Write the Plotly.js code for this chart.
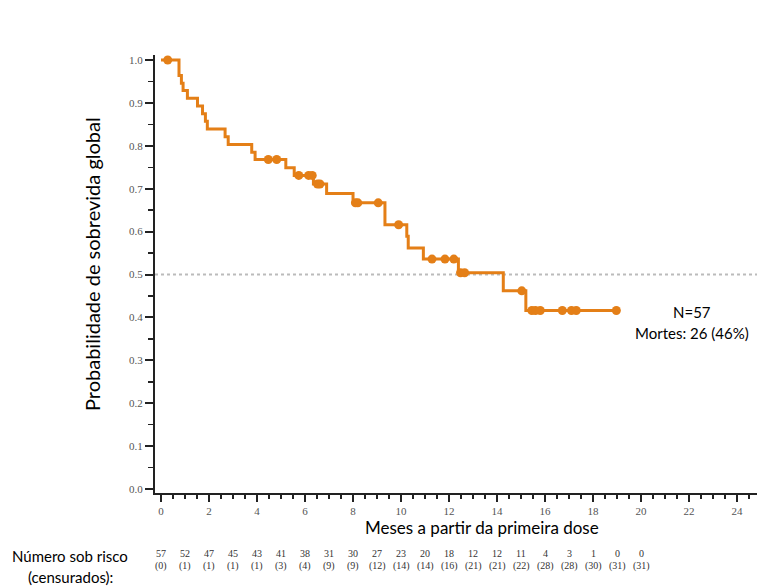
<!DOCTYPE html>
<html>
<head>
<meta charset="utf-8">
<script src="https://cdn.plot.ly/plotly-3.0.1.min.js"></script>
<style>html,body{margin:0;padding:0;background:#fff;}#chart{width:759px;height:587px;}</style>
</head>
<body>
<div id="chart"></div>
<script>
// Kaplan-Meier step curve (time in months, survival after the step)
const stepTimes = [0, 0.75, 0.85, 0.92, 1.10, 1.52, 1.73, 1.85, 1.93, 2.67, 2.80, 3.78, 3.92, 5.20, 5.55, 6.35, 6.90, 8.00, 9.33, 10.24, 10.30, 10.93, 12.39, 14.26, 15.20, 18.97];
const stepSurv  = [1.0, 0.964, 0.946, 0.929, 0.911, 0.893, 0.875, 0.857, 0.839, 0.821, 0.803, 0.785, 0.768, 0.749, 0.731, 0.711, 0.689, 0.667, 0.616, 0.589, 0.562, 0.536, 0.504, 0.462, 0.416, 0.416];

// Censored observations
const censorTimes = [0.28, 4.47, 4.82, 5.74, 6.15, 6.30, 6.52, 6.62, 8.10, 8.20, 9.05, 9.90, 11.29, 11.83, 12.20, 12.48, 12.65, 15.03, 15.45, 15.60, 15.80, 16.72, 17.10, 17.30, 18.97];
const censorSurv  = [1.0, 0.768, 0.768, 0.731, 0.731, 0.731, 0.711, 0.711, 0.667, 0.667, 0.667, 0.616, 0.536, 0.536, 0.536, 0.504, 0.504, 0.462, 0.416, 0.416, 0.416, 0.416, 0.416, 0.416, 0.416];

// Number at risk table
const riskMonths = [0, 1, 2, 3, 4, 5, 6, 7, 8, 9, 10, 11, 12, 13, 14, 15, 16, 17, 18, 19, 20];
const atRisk     = [57, 52, 47, 45, 43, 41, 38, 31, 30, 27, 23, 20, 18, 12, 12, 11, 4, 3, 1, 0, 0];
const censored   = [0, 1, 1, 1, 1, 3, 4, 9, 9, 12, 14, 14, 16, 21, 21, 22, 28, 28, 30, 31, 31];

const orange = '#E47F17';
const serif = 'Liberation Serif, DejaVu Serif, serif';
const sans = 'Lato, Open Sans, sans-serif';

const traces = [
  {x: stepTimes, y: stepSurv, type: 'scatter', mode: 'lines', line: {shape: 'hv', color: orange, width: 3}, hoverinfo: 'skip'},
  {x: censorTimes, y: censorSurv, type: 'scatter', mode: 'markers', marker: {color: orange, size: 9, symbol: 'circle'}, hoverinfo: 'skip'}
];

// convert pixel y positions (from top of page) to paper coords
function py(pix) { return (587 - 94 - pix) / (587 - 55 - 94); }
function px(pix) { return (pix - 155) / (759 - 155 - 2); }

const annotations = [];
riskMonths.forEach((m, i) => {
  annotations.push({x: m, xref: 'x', y: py(553), yref: 'paper', text: String(atRisk[i]), showarrow: false, font: {family: serif, size: 10, color: '#333'}, xanchor: 'center', yanchor: 'middle'});
  annotations.push({x: m, xref: 'x', y: py(566), yref: 'paper', text: '(' + censored[i] + ')', showarrow: false, font: {family: serif, size: 10, color: '#333'}, xanchor: 'center', yanchor: 'middle'});
});

annotations.push(
  {xref: 'paper', yref: 'paper', x: px(482), y: py(527), text: 'Meses a partir da primeira dose', showarrow: false, font: {family: sans, size: 17, color: '#000'}, xanchor: 'center', yanchor: 'middle'},
  {xref: 'paper', yref: 'paper', x: px(92), y: py(264), text: 'Probabilidade de sobrevida global', showarrow: false, textangle: -90, font: {family: sans, size: 20, color: '#000'}, xanchor: 'center', yanchor: 'middle'},
  {xref: 'paper', yref: 'paper', x: px(692), y: py(312), text: 'N=57', showarrow: false, font: {family: sans, size: 15, color: '#000'}, xanchor: 'center', yanchor: 'middle'},
  {xref: 'paper', yref: 'paper', x: px(692), y: py(333), text: 'Mortes: 26 (46%)', showarrow: false, font: {family: sans, size: 15, color: '#000'}, xanchor: 'center', yanchor: 'middle'},
  {xref: 'paper', yref: 'paper', x: px(70), y: py(556), text: 'Número sob risco', showarrow: false, font: {family: sans, size: 15, color: '#000'}, xanchor: 'center', yanchor: 'middle'},
  {xref: 'paper', yref: 'paper', x: px(70), y: py(577), text: '(censurados):', showarrow: false, font: {family: sans, size: 15, color: '#000'}, xanchor: 'center', yanchor: 'middle'}
);

const layout = {
  width: 759, height: 587,
  margin: {l: 155, r: 2, t: 55, b: 94},
  paper_bgcolor: '#fff', plot_bgcolor: '#fff',
  showlegend: false,
  xaxis: {
    range: [-0.25, 24.83], showgrid: false, zeroline: false,
    showline: true, linecolor: '#222', linewidth: 2,
    ticks: 'outside', tickcolor: '#222', ticklen: 7, tickwidth: 2, dtick: 2, tick0: 0,
    minor: {ticks: 'outside', dtick: 0.5, tick0: 0, ticklen: 4, tickcolor: '#222', tickwidth: 1.5},
    tickfont: {family: serif, size: 11, color: '#555'}
  },
  yaxis: {
    range: [-0.0093, 1.0117], showgrid: false, zeroline: false,
    showline: true, linecolor: '#222', linewidth: 2,
    ticks: 'outside', tickcolor: '#222', ticklen: 8, tickwidth: 2, dtick: 0.1, tick0: 0, tickformat: '.1f',
    minor: {ticks: 'outside', dtick: 0.05, tick0: 0, ticklen: 5, tickcolor: '#222', tickwidth: 1.5},
    tickfont: {family: serif, size: 11, color: '#555'}
  },
  shapes: [
    {type: 'line', xref: 'paper', x0: 0, x1: 1, yref: 'y', y0: 0.5, y1: 0.5, line: {color: '#bbb', width: 2, dash: 'dot'}, layer: 'below'}
  ],
  annotations: annotations
};

Plotly.newPlot('chart', traces, layout, {displayModeBar: false, staticPlot: true});
</script>
</body>
</html>
